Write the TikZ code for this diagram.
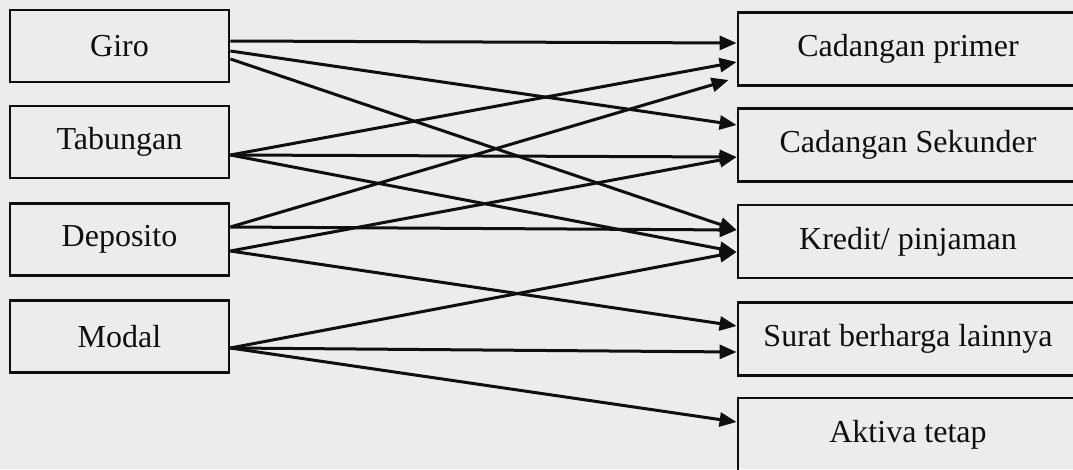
\documentclass[tikz,border=0pt]{standalone}
\usepackage{fontspec}
\setmainfont{Liberation Serif}
\usetikzlibrary{arrows.meta,calc}
\definecolor{bg}{RGB}{236,236,236}
\definecolor{ink}{RGB}{15,15,15}
\begin{document}
\begin{tikzpicture}[x=1pt,y=-1pt,
  box/.style={draw=ink, text=ink, line width=2.8pt, rectangle, inner sep=0pt, font=\fontsize{32}{38}\selectfont},
  lbox/.style={box, minimum width=219pt, minimum height=72pt},
  rbox/.style={box, minimum width=340pt, minimum height=73pt},
  link/.style={draw=ink, line width=3pt, -{Triangle[length=17pt,width=14pt]}}]
\useasboundingbox (0,0) rectangle (1073,469);
\fill[bg] (0,0) rectangle (1073,469);
\clip (0,0) rectangle (1073,469);
\node[lbox] (giro) at (119.5,46) {Giro};
\node[lbox] (tab) at (119.5,142) {Tabungan};
\node[lbox] (dep) at (119.5,239.5) {Deposito};
\node[lbox] (modal) at (119.5,336.5) {Modal};
\node[rbox] (prim) at (908,49) {Cadangan primer};
\node[rbox] (sek) at (908,145) {Cadangan Sekunder};
\node[rbox] (kred) at (908,241.5) {Kredit/ pinjaman};
\node[rbox] (surat) at (908,339) {Surat berharga lainnya};
\node[rbox] (akt) at (908,434.5) {Aktiva tetap};
\draw[link] ($(giro.east)+(0,-5)$) -- ($(prim.west)+(0,-6)$);
\draw[link] ($(giro.east)+(0,5)$) -- ($(sek.west)+(0,-20)$);
\draw[link] ($(giro.east)+(0,13)$) -- ($(kred.west)+(0,-11.5)$);
\draw[link] ($(tab.east)+(0,13)$) -- ($(prim.west)+(0,13)$);
\draw[link] ($(tab.east)+(0,13)$) -- ($(sek.west)+(0,12)$);
\draw[link] ($(tab.east)+(0,13)$) -- ($(kred.west)+(0,10.5)$);
\draw[link] ($(dep.east)+(0,-12.5)$) -- ($(prim.west)+(-8,31)$);
\draw[link] ($(dep.east)+(0,-12.5)$) -- ($(kred.west)+(0,-11.5)$);
\draw[link] ($(dep.east)+(0,11.5)$) -- ($(sek.west)+(0,12)$);
\draw[link] ($(dep.east)+(0,11.5)$) -- ($(surat.west)+(0,-13)$);
\draw[link] ($(modal.east)+(0,11.5)$) -- ($(kred.west)+(0,10.5)$);
\draw[link] ($(modal.east)+(0,11.5)$) -- ($(surat.west)+(0,13)$);
\draw[link] ($(modal.east)+(0,11.5)$) -- ($(akt.west)+(0,-12.5)$);
\end{tikzpicture}
\end{document}
